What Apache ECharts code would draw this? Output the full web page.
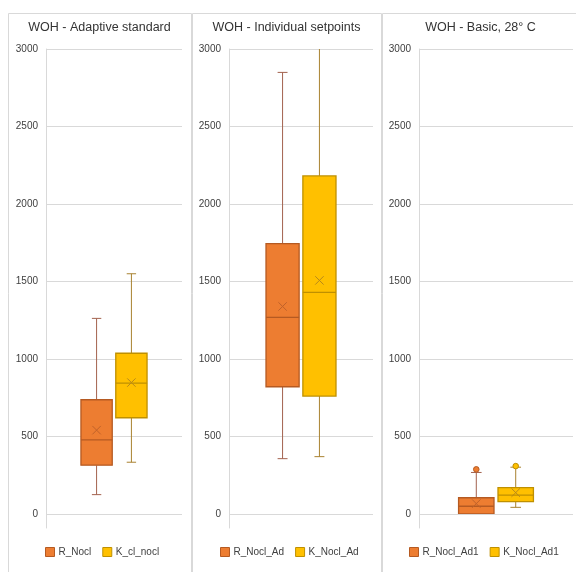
<!DOCTYPE html>
<html>
<head>
<meta charset="utf-8">
<script src="https://cdn.jsdelivr.net/npm/echarts@6/dist/echarts.min.js"></script>
<style>
html,body{margin:0;padding:0;background:#fff;}
#c{width:576px;height:572px;}
</style>
</head>
<body>
<div id="c"></div>
<script>
// ---- data ----
const panelTitles = ['WOH - Adaptive standard', 'WOH - Individual setpoints', 'WOH - Basic, 28° C'];
const seriesNames = [['R_Nocl', 'K_cl_nocl'], ['R_Nocl_Ad', 'K_Nocl_Ad'], ['R_Nocl_Ad1', 'K_Nocl_Ad1']];
const yTicks = [0, 500, 1000, 1500, 2000, 2500, 3000];
// [min, q1, median, q3, max]
const rNocl = [125, 315, 478, 737, 1262];
const kClNocl = [334, 621, 845, 1037, 1550];
const rNoclAd = [357, 821, 1268, 1744, 2849];
const kNoclAd = [370, 761, 1430, 2181, 3060];
const rNoclAd1 = [0, 0, 50, 105, 268];
const kNoclAd1 = [43, 80, 122, 170, 302];
const means = [[541, 848], [1339, 1507], [67, 138]];
const outliersR = [[], [], [288]];
const outliersK = [[], [], [309]];
const boxes = [[rNocl, kClNocl], [rNoclAd, kNoclAd], [rNoclAd1, kNoclAd1]];

// ---- style / layout ----
const FONT = 'Liberation Sans';
const fills = ['#ED7D31', '#FFC000'];
const borders = ['#B55A22', '#BF9000'];
const whiskers = ['#A3624E', '#A98230'];
const meanCols = ['#C0622A', '#B8891A'];
const gridCol = '#D9D9D9';
const panels = [
  {x0: 8, x1: 191, left: 46, width: 136, cx: 99.5, legLeft: 45},
  {x0: 192, x1: 381, left: 229, width: 144, cx: 286.5, legLeft: 220},
  {x0: 382, x1: 579, left: 419, width: 154, cx: 480.5, legLeft: 409}
];
const TOP = 49, H = 465;

function boxRender(side, k) {
  return function (params, api) {
    const bw = api.size([1, 0])[0];
    const cx = api.coord([0, 0])[0] + side * 0.128 * bw;
    const w = 0.23 * bw, cap = 0.3 * w;
    const y = i => api.coord([0, api.value(i)])[1];
    const yMin = y(1), yQ1 = y(2), yMed = y(3), yQ3 = y(4), yMax = y(5), yMean = y(6);
    const wl = {stroke: whiskers[k], lineWidth: 1};
    const ch = [];
    ch.push({type: 'line', shape: {x1: cx, y1: yMax, x2: cx, y2: yQ3}, style: wl});
    ch.push({type: 'line', shape: {x1: cx, y1: yQ1, x2: cx, y2: yMin}, style: wl});
    ch.push({type: 'line', shape: {x1: cx - cap / 2, y1: yMax, x2: cx + cap / 2, y2: yMax}, style: wl});
    ch.push({type: 'line', shape: {x1: cx - cap / 2, y1: yMin, x2: cx + cap / 2, y2: yMin}, style: wl});
    ch.push({type: 'rect', shape: {x: cx - w / 2, y: yQ3, width: w, height: yQ1 - yQ3},
      style: {fill: fills[k], stroke: borders[k], lineWidth: 1.3}});
    ch.push({type: 'line', shape: {x1: cx - w / 2, y1: yMed, x2: cx + w / 2, y2: yMed},
      style: {stroke: borders[k], lineWidth: 1.3}});
    const m = 4.2;
    ch.push({type: 'line', shape: {x1: cx - m, y1: yMean - m, x2: cx + m, y2: yMean + m}, style: {stroke: meanCols[k], lineWidth: 1}});
    ch.push({type: 'line', shape: {x1: cx - m, y1: yMean + m, x2: cx + m, y2: yMean - m}, style: {stroke: meanCols[k], lineWidth: 1}});
    return {type: 'group', children: ch};
  };
}
function outRender(side, k) {
  return function (params, api) {
    const bw = api.size([1, 0])[0];
    const cx = api.coord([0, 0])[0] + side * 0.128 * bw;
    const cy = api.coord([0, api.value(1)])[1];
    return {type: 'circle', shape: {cx: cx, cy: cy, r: 2.8},
      style: {fill: fills[k], stroke: borders[k], lineWidth: 1}};
  };
}

const option = {
  animation: false,
  backgroundColor: '#fff',
  title: [], grid: [], xAxis: [], yAxis: [], series: [], legend: [],
  graphic: []
};

panels.forEach((p, i) => {
  option.graphic.push({type: 'rect', shape: {x: p.x0 + 0.5, y: 13.5, width: p.x1 - p.x0, height: 600},
    style: {fill: 'none', stroke: gridCol, lineWidth: 1}, silent: true, z: -1});
  option.title.push({text: panelTitles[i], left: p.cx, top: 21, textAlign: 'center', padding: 0,
    textStyle: {fontFamily: FONT, fontSize: 12.5, fontWeight: 'normal', color: '#333333'}});
  // data grid
  const gi = option.grid.length;
  option.grid.push({left: p.left, top: TOP, width: p.width, height: H});
  option.xAxis.push({type: 'category', gridIndex: gi, data: [''], axisLine: {show: false},
    axisTick: {show: false}, axisLabel: {show: false}, splitLine: {show: false}});
  option.yAxis.push({type: 'value', gridIndex: gi, min: yTicks[0], max: yTicks[yTicks.length - 1],
    interval: yTicks[1] - yTicks[0],
    axisLine: {show: false}, axisTick: {show: false},
    axisLabel: {fontFamily: FONT, fontSize: 10, color: '#404040', margin: 8, formatter: v => String(v)},
    splitLine: {lineStyle: {color: gridCol, width: 1}}});
  // decoration grid for the vertical axis line
  const gd = option.grid.length;
  option.grid.push({left: p.left, top: TOP, width: p.width, height: H + 14});
  option.xAxis.push({type: 'category', gridIndex: gd, data: [''], show: false});
  option.yAxis.push({type: 'value', gridIndex: gd, min: 0, max: 1, axisLabel: {show: false},
    axisTick: {show: false}, splitLine: {show: false},
    axisLine: {show: true, lineStyle: {color: gridCol, width: 1}}});

  [0, 1].forEach(k => {
    const side = k === 0 ? -1 : 1;
    const b = boxes[i][k];
    option.series.push({
      type: 'custom', name: seriesNames[i][k], xAxisIndex: gi, yAxisIndex: gi, clip: true,
      renderItem: boxRender(side, k),
      itemStyle: {color: fills[k]},
      encode: {x: 0, y: [1, 2, 3, 4, 5, 6]},
      data: [[0, b[0], b[1], b[2], b[3], b[4], means[i][k]]]
    });
    const outs = k === 0 ? outliersR[i] : outliersK[i];
    if (outs.length) {
      option.series.push({
        type: 'custom', name: seriesNames[i][k] + ' outliers', xAxisIndex: gi, yAxisIndex: gi,
        renderItem: outRender(side, k), encode: {x: 0, y: 1},
        data: outs.map(v => [0, v])
      });
    }
  });
  option.legend.push({
    left: p.legLeft, top: 547, padding: 0, itemWidth: 9, itemHeight: 9, itemGap: 11, selectedMode: false,
    textStyle: {fontFamily: FONT, fontSize: 10, color: '#404040', padding: [0, 0, 0, -1]},
    data: [0, 1].map(k => ({name: seriesNames[i][k], icon: 'rect',
      itemStyle: {color: fills[k], borderColor: borders[k], borderWidth: 1}}))
  });
});

const chart = echarts.init(document.getElementById('c'), null, {renderer: 'canvas'});
chart.setOption(option);
</script>
</body>
</html>
